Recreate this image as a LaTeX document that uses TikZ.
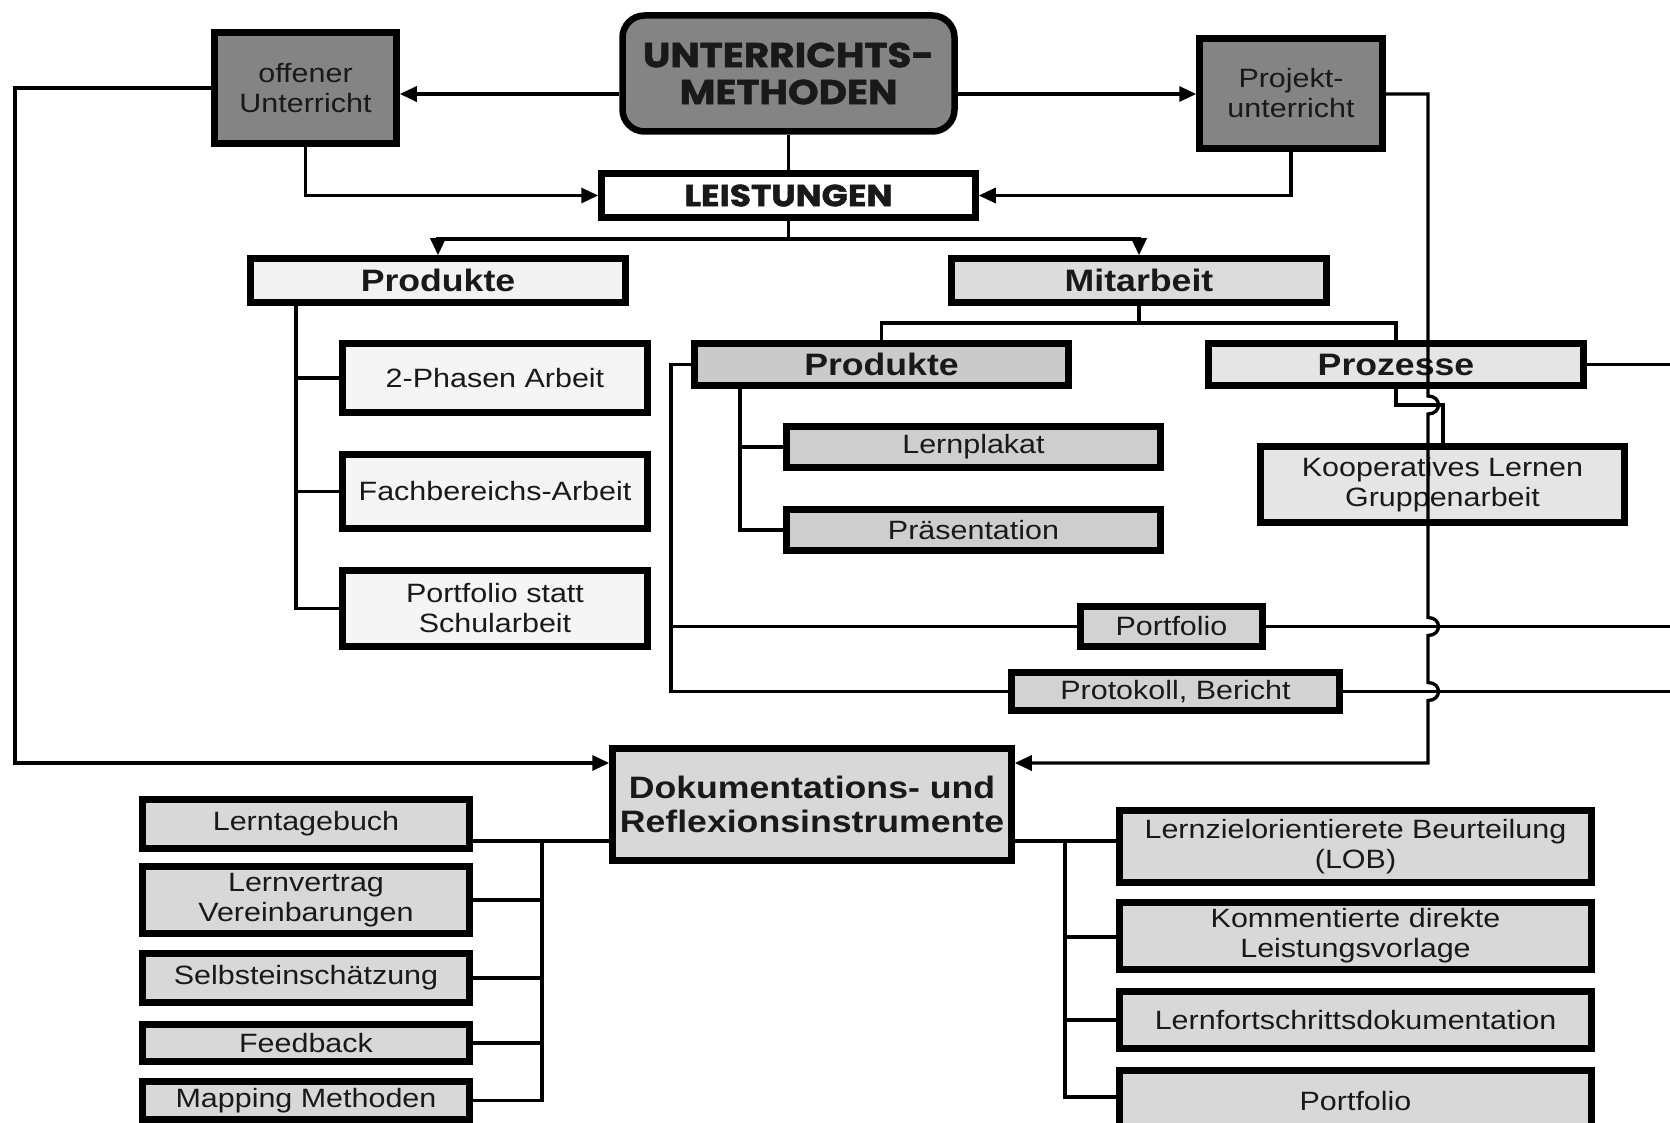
\documentclass[tikz,border=0pt]{standalone}
\usepackage{fontspec}
\setmainfont{Liberation Sans}[FakeStretch=1.15]
\newfontfamily\deco{Poppins}[FakeStretch=1.13, FakeBold=1.5]
\usetikzlibrary{arrows.meta}
\definecolor{txt}{RGB}{25,25,25}
\definecolor{dg}{RGB}{132,132,132}
\definecolor{cProdL}{RGB}{242,242,242}
\definecolor{cMit}{RGB}{220,220,220}
\definecolor{cProdM}{RGB}{202,202,202}
\definecolor{cProz}{RGB}{229,229,229}
\definecolor{cWhite}{RGB}{245,245,245}
\definecolor{cLp}{RGB}{206,206,206}
\definecolor{cKoop}{RGB}{229,229,229}
\definecolor{cPf}{RGB}{210,210,210}
\definecolor{cDoc}{RGB}{216,216,216}
\begin{document}
\begin{tikzpicture}[x=1pt,y=-1pt,
  bx/.style={draw=black, line width=6.5pt, inner sep=2pt, align=center, text=txt,
    font=\fontsize{26.5}{30}\selectfont},
  bbx/.style={bx, font=\fontsize{31}{34}\selectfont\bfseries},
  conn/.style={line width=3.3pt, draw=black},
  arr/.style={conn, -{Triangle[length=17pt,width=15pt]}},
]
\useasboundingbox (0,0) rectangle (1670,1123);
\fill[white] (0,0) rectangle (1670,1123);

% top row
\node[bx, fill=dg, minimum width=182pt, minimum height=111pt] (off) at (305.5,88) {offener\\Unterricht};
\node[bx, fill=dg, rounded corners=22pt, minimum width=332pt, minimum height=116pt,
  font=\fontsize{34.5}{37}\selectfont\deco\bfseries] (um) at (788.5,73.5) {UNTERRICHTS-\\METHODEN};
\node[bx, fill=dg, minimum width=183pt, minimum height=110pt] (proj) at (1291,93.5) {Projekt-\\unterricht};
\node[bx, fill=white, minimum width=374pt, minimum height=44pt,
  font=\fontsize{30.5}{32}\selectfont\deco\bfseries] (leist) at (788.5,195.5) {LEISTUNGEN};

% second level
\node[bbx, fill=cProdL, minimum width=375pt, minimum height=44pt] (prodL) at (438,280.5) {Produkte};
\node[bbx, fill=cMit, minimum width=375pt, minimum height=44pt] (mit) at (1139,280.5) {Mitarbeit};
\node[bbx, fill=cProdM, minimum width=374pt, minimum height=42pt] (prodM) at (881.5,364.5) {Produkte};
\node[bbx, fill=cProz, minimum width=375pt, minimum height=42pt] (proz) at (1396,364.5) {Prozesse};

% left products
\node[bx, fill=cWhite, minimum width=305pt, minimum height=69pt] (phasen) at (495,378) {2-Phasen Arbeit};
\node[bx, fill=cWhite, minimum width=305pt, minimum height=74pt] (fach) at (495,491.5) {Fachbereichs-Arbeit};
\node[bx, fill=cWhite, minimum width=305pt, minimum height=76pt] (pfs) at (495,608.5) {Portfolio statt\\Schularbeit};

% middle products
\node[bx, fill=cLp, minimum width=374pt, minimum height=41pt] (lp) at (973.5,447) {Lernplakat};
\node[bx, fill=cLp, minimum width=374pt, minimum height=41pt] (pr) at (973.5,530) {Präsentation};
\node[bx, fill=cKoop, minimum width=364pt, minimum height=76pt] (koop) at (1442.5,484.5) {Kooperatives Lernen\\Gruppenarbeit};
\node[bx, fill=cPf, minimum width=182pt, minimum height=40pt] (pfm) at (1171.5,626.5) {Portfolio};
\node[bx, fill=cPf, minimum width=328pt, minimum height=38pt] (prot) at (1175.5,691.5) {Protokoll, Bericht};

% documentation
\node[bbx, fill=cDoc, minimum width=399pt, minimum height=112pt] (doc) at (812,804.5) {Dokumentations- und\\Reflexionsinstrumente};
\node[bx, fill=cDoc, minimum width=327pt, minimum height=49pt] (ltb) at (306,824) {Lerntagebuch};
\node[bx, fill=cDoc, minimum width=327pt, minimum height=67pt] (lv) at (306,900) {Lernvertrag\\Vereinbarungen};
\node[bx, fill=cDoc, minimum width=327pt, minimum height=49pt] (se) at (306,978) {Selbsteinschätzung};
\node[bx, fill=cDoc, minimum width=327pt, minimum height=37pt] (fb) at (306,1043) {Feedback};
\node[bx, fill=cDoc, minimum width=327pt, minimum height=38pt] (mm) at (306,1100.5) {Mapping Methoden};
\node[bx, fill=cDoc, minimum width=472pt, minimum height=72pt] (lob) at (1355.5,846.5) {Lernzielorientierete Beurteilung\\(LOB)};
\node[bx, fill=cDoc, minimum width=472pt, minimum height=67pt] (kom) at (1355.5,936) {Kommentierte direkte\\Leistungsvorlage};
\node[bx, fill=cDoc, minimum width=472pt, minimum height=57pt] (lfd) at (1355.5,1020) {Lernfortschrittsdokumentation};
\node[bx, fill=cDoc, minimum width=472pt, minimum height=62pt] (pfb) at (1355.5,1101.5) {Portfolio};

% free ends at the right edge
\coordinate (eProz) at (1672,364.5);
\coordinate (ePf) at (1672,626.5);
\coordinate (eProt) at (1672,691.5);

% connectors top
\draw[arr] (um.west |- 0,94) -- (off.east |- 0,94);
\draw[arr] (um.east |- 0,94) -- (proj.west |- 0,94);
\draw[conn] (um.south) -- (leist.north);
\draw[arr] (off.south) |- (leist.west);
\draw[arr] (proj.south) |- (leist.east);
\draw[arr] (leist.south) -- (788.5,239) -| (prodL.north);
\draw[arr] (leist.south) -- (788.5,239) -| (mit.north);
\draw[conn] (mit.south) -- (1139,323) -| (prodM.north);
\draw[conn] (mit.south) -- (1139,323) -| (proz.north);

% left loop
\draw[arr] (off.west |- 0,88) -- (15,88) -- (15,763) -- (doc.west |- 0,763);

% left products tree
\draw[conn] (prodL.south -| 296,0) -- (296,608.5) -- (pfs.west);
\draw[conn] (296,378) -- (phasen.west);
\draw[conn] (296,491.5) -- (fach.west);

% middle products tree
\draw[conn] (prodM.south -| 740,0) -- (740,530) -- (pr.west);
\draw[conn] (740,447) -- (lp.west);
\draw[conn] (prodM.west) -- (671,364.5) -- (671,691.5) -- (prot.west);
\draw[conn] (671,626.5) -- (pfm.west);

% lines to right edge
\draw[conn] (proz.east) -- (eProz);
\draw[conn] (pfm.east) -- (ePf);
\draw[conn] (prot.east) -- (eProt);

% Prozesse -> Kooperatives
\draw[conn] (proz.south) -- (1396,405) -- (1443,405) -- (koop.north -| 1443,0);

% vertical line from Projektunterricht with hops
\draw[arr] (proj.east |- 0,94) -- (1428,94) -- (1428,396)
  .. controls (1442,396) and (1442,414) .. (1428,414) -- (1428,617.5)
  .. controls (1442,617.5) and (1442,635.5) .. (1428,635.5) -- (1428,682.5)
  .. controls (1442,682.5) and (1442,700.5) .. (1428,700.5) -- (1428,763)
  -- (doc.east |- 0,763);

% documentation trees
\draw[conn] (doc.west |- 0,841) -- (ltb.east |- 0,841);
\draw[conn] (542,841) -- (542,1100.5) -- (mm.east);
\draw[conn] (542,900) -- (lv.east);
\draw[conn] (542,978) -- (se.east);
\draw[conn] (542,1043) -- (fb.east);
\draw[conn] (doc.east |- 0,841) -- (lob.west |- 0,841);
\draw[conn] (1065,841) -- (1065,1097) -- (pfb.west |- 0,1097);
\draw[conn] (1065,937) -- (kom.west |- 0,937);
\draw[conn] (1065,1020) -- (lfd.west);
\end{tikzpicture}
\end{document}
